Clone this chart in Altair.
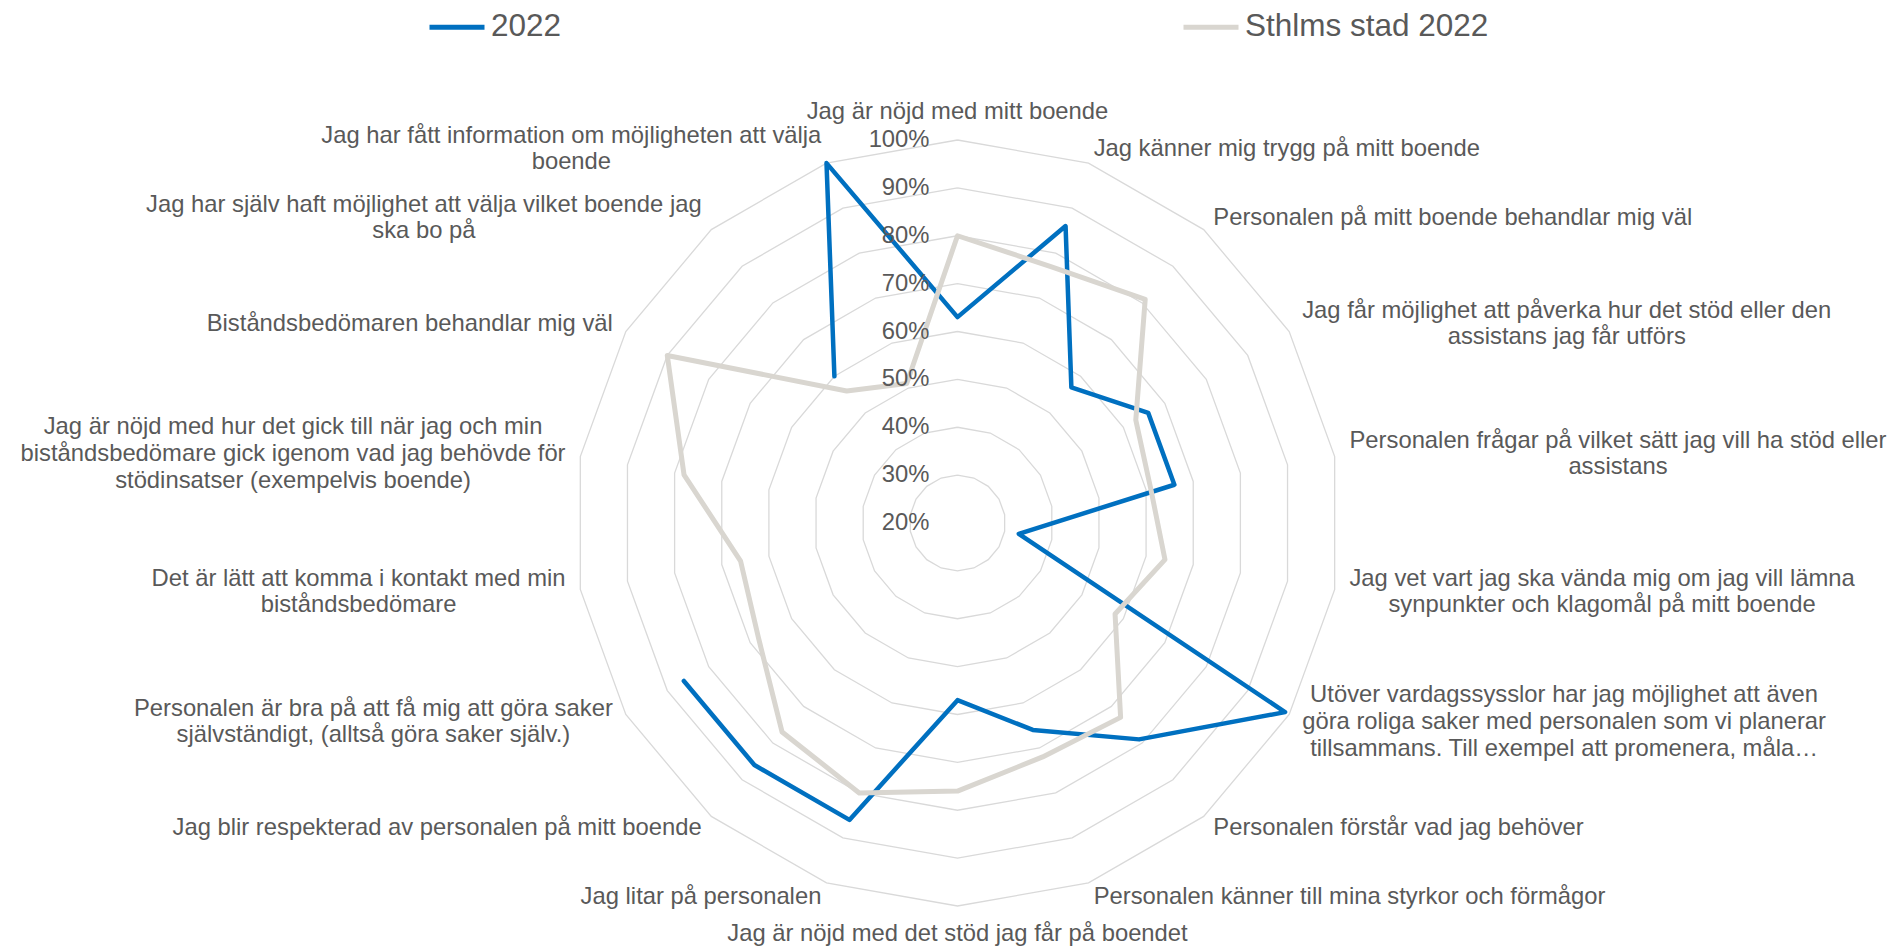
import math
import altair as alt
import pandas as pd

# ---------------- data ----------------
categories = [
    "Jag är nöjd med mitt boende",
    "Jag känner mig trygg på mitt boende",
    "Personalen på mitt boende behandlar mig väl",
    "Jag får möjlighet att påverka hur det stöd eller den\nassistans jag får utförs",
    "Personalen frågar på vilket sätt jag vill ha stöd eller\nassistans",
    "Jag vet vart jag ska vända mig om jag vill lämna\nsynpunkter och klagomål på mitt boende",
    "Utöver vardagssysslor har jag möjlighet att även\ngöra roliga saker med personalen som vi planerar\ntillsammans. Till exempel att promenera, måla…",
    "Personalen förstår vad jag behöver",
    "Personalen känner till mina styrkor och förmågor",
    "Jag är nöjd med det stöd jag får på boendet",
    "Jag litar på personalen",
    "Jag blir respekterad av personalen på mitt boende",
    "Personalen är bra på att få mig att göra saker\nsjälvständigt, (alltså göra saker själv.)",
    "Det är lätt att komma i kontakt med min\nbiståndsbedömare",
    "Jag är nöjd med hur det gick till när jag och min\nbiståndsbedömare gick igenom vad jag behövde för\nstödinsatser (exempelvis boende)",
    "Biståndsbedömaren behandlar mig väl",
    "Jag har själv haft möjlighet att välja vilket boende jag\nska bo på",
    "Jag har fått information om möjligheten att välja\nboende",
]
values_2022 = [63, 86, 57, 66, 66, 33, 99, 79, 66, 57, 86, 86, 86, None, None, None, 60, 100]
values_sthlm = [80, 77, 81, 63, 61, 64, 58, 73, 72, 76, 80, 77, 68, 66, 78, 90, 56, 51]
series_names = ["2022", "Sthlms stad 2022"]
series_colors = ["#0070C0", "#D9D6D0"]
tick_values = [20, 30, 40, 50, 60, 70, 80, 90, 100]
tick_labels = ["20%", "30%", "40%", "50%", "60%", "70%", "80%", "90%", "100%"]

# ---------------- layout ----------------
N = len(categories)
R_MIN, R_MAX = 20, 100
W, H = 1887, 941             # drawing area
CX, CY = 949.5, 515          # centre of the radar in drawing area px
R_PX = 383                   # radius of the 100% ring in px
K = R_PX / (R_MAX - R_MIN)   # px per percentage point
FONT = "Liberation Sans"
TXT = "#595959"
LABEL_SIZE = 23.8
LINE_H = 26.7
GAP = 15

x_dom = [-CX / K, (W - CX) / K]
y_dom = [-(H - CY) / K, CY / K]
xs = alt.Scale(domain=x_dom, range=[0, W], nice=False, zero=False)
ys = alt.Scale(domain=y_dom, range=[H, 0], nice=False, zero=False)

ANG = f"2*PI*datum.idx/{N}"
calc_x = f"(datum.v - {R_MIN}) * sin({ANG})"
calc_y = f"(datum.v - {R_MIN}) * cos({ANG})"

# ---------------- rings ----------------
ring_rows = []
for t in tick_values[1:]:
    for i in range(N + 1):
        ring_rows.append({"ring": t, "idx": i % N, "step": i, "v": t})
rings = (
    alt.Chart(pd.DataFrame(ring_rows))
    .transform_calculate(x=calc_x, y=calc_y)
    .mark_line(color="#D9D9D9", strokeWidth=1.3)
    .encode(
        x=alt.X("x:Q", scale=xs, axis=None),
        y=alt.Y("y:Q", scale=ys, axis=None),
        detail="ring:N",
        order="step:Q",
    )
)


# ---------------- series paths ----------------
def path_rows(name, vals):
    n = len(vals)
    if all(v is not None for v in vals):
        seq = list(range(n)) + [0]
    else:
        start = next(i for i in range(n) if vals[i] is not None and vals[i - 1] is None)
        seq = []
        i = start
        while vals[i % n] is not None and len(seq) < n:
            seq.append(i % n)
            i += 1
    return [{"series": name, "idx": j, "step": s, "v": vals[j]} for s, j in enumerate(seq)]


color_scale = alt.Scale(domain=series_names, range=series_colors)
legend = alt.Legend(
    orient="none", legendX=419, legendY=-11, direction="horizontal", title=None,
    symbolType="stroke", symbolSize=3025, symbolStrokeWidth=5,
    labelFontSize=31.5, labelColor=TXT, labelFont=FONT, labelOffset=4, labelLimit=600,
    columnPadding=611, padding=0,
)


def series_layer(name, vals, width, show_legend):
    return (
        alt.Chart(pd.DataFrame(path_rows(name, vals)))
        .transform_calculate(x=calc_x, y=calc_y)
        .mark_line(strokeWidth=width, strokeJoin="round", strokeCap="round")
        .encode(
            x=alt.X("x:Q", scale=xs, axis=None),
            y=alt.Y("y:Q", scale=ys, axis=None),
            color=alt.Color("series:N", scale=color_scale,
                            legend=legend if show_legend else None),
            order="step:Q",
        )
    )


line_2022 = series_layer(series_names[0], values_2022, 4.5, True)
line_sthlm = series_layer(series_names[1], values_sthlm, 5, True)

# ---------------- radial tick labels ----------------
ticks = (
    alt.Chart(pd.DataFrame({"v": tick_values, "label": tick_labels}))
    .transform_calculate(x="0", y=f"datum.v - {R_MIN}")
    .mark_text(align="right", baseline="middle", dx=-28, font=FONT,
               fontSize=LABEL_SIZE, color=TXT)
    .encode(x=alt.X("x:Q", scale=xs, axis=None),
            y=alt.Y("y:Q", scale=ys, axis=None),
            text="label:N")
)

# ---------------- category labels ----------------
CW = {' ': 278, '!': 278, '(': 333, ')': 333, ',': 278, '.': 278, '%': 889, '…': 1000,
      'A': 667, 'B': 667, 'D': 722, 'J': 500, 'P': 667, 'S': 667, 'T': 611, 'U': 722,
      'a': 556, 'b': 556, 'c': 500, 'd': 556, 'e': 556, 'f': 278, 'g': 556, 'h': 556,
      'i': 222, 'j': 222, 'k': 500, 'l': 222, 'm': 833, 'n': 556, 'o': 556, 'p': 556,
      'q': 556, 'r': 333, 's': 500, 't': 278, 'u': 556, 'v': 500, 'w': 722, 'x': 500,
      'y': 500, 'z': 500, 'å': 556, 'ä': 556, 'ö': 556}


def text_w(s):
    return sum(CW.get(c, 556) for c in s) / 1000 * LABEL_SIZE


cat_rows = []
for i, lab in enumerate(categories):
    lines = lab.split("\n")
    n_lines = len(lines)
    bw = max(text_w(l) for l in lines)
    bh = n_lines * LINE_H
    a = 2 * math.pi * i / N
    ar = (R_MAX - R_MIN) + GAP / K
    ax, ay = ar * math.sin(a), ar * math.cos(a)
    deg = 360 * i / N
    if 0 < deg < 180:
        ax += bw / 2 / K
    elif deg > 180:
        ax -= bw / 2 / K
    if deg == 0:
        ay += bh / 2 / K
    elif deg == 180:
        ay -= bh / 2 / K
    # Vega anchors the first line at the given y; lift so the block is centred
    ay += (n_lines - 1) * LINE_H / 2 / K
    cat_rows.append({"label": lab, "x": ax, "y": ay})

cat_labels = (
    alt.Chart(pd.DataFrame(cat_rows))
    .mark_text(align="center", baseline="middle", lineBreak="\n", lineHeight=LINE_H,
               font=FONT, fontSize=LABEL_SIZE, color=TXT)
    .encode(x=alt.X("x:Q", scale=xs, axis=None),
            y=alt.Y("y:Q", scale=ys, axis=None),
            text="label:N")
)

chart = (
    alt.layer(rings, line_2022, line_sthlm, ticks, cat_labels)
    .properties(width=W, height=H, autosize=alt.AutoSizeParams(type="none"), padding=0)
    .configure(font=FONT)
    .configure_view(stroke=None)
)

chart.save("out.html", embed_options={"renderer": "svg", "actions": False})
